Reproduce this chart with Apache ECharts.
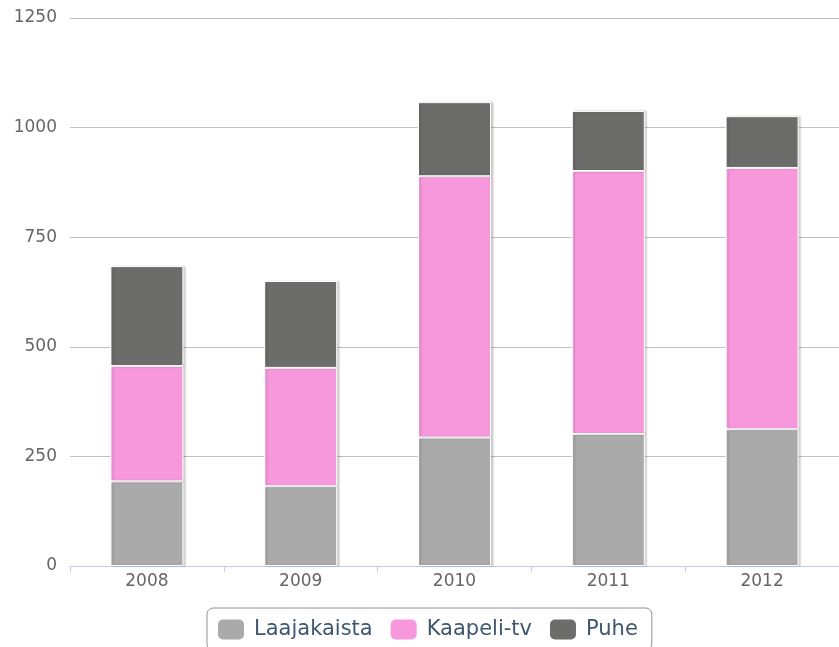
<!DOCTYPE html>
<html>
<head>
<meta charset="utf-8">
<script src="https://cdn.jsdelivr.net/npm/echarts@6/dist/echarts.min.js"></script>
<style>html,body{margin:0;padding:0;background:#fff}#c{width:839px;height:647px}</style>
</head>
<body>
<div id="c"></div>
<script>
const categories = ['2008', '2009', '2010', '2011', '2012'];
const laajakaista = [193, 182, 293, 301, 312];
const kaapelitv = [263, 270, 596, 600, 596];
const puhe = [228, 198, 169, 137, 118];
const yTicks = [0, 250, 500, 750, 1000, 1250];

const font = 'DejaVu Sans';
const barStyle = c => ({
  color: c, borderColor: '#ffffff', borderWidth: 1,
  shadowColor: 'rgba(0,0,0,0.18)', shadowBlur: 2, shadowOffsetX: 2, shadowOffsetY: 0
});
const chart = echarts.init(document.getElementById('c'), null, {renderer: 'canvas'});
chart.setOption({
  animation: false,
  backgroundColor: '#ffffff',
  grid: {left: 70, top: 18, width: 775, height: 548, containLabel: false},
  xAxis: {
    type: 'category', data: categories,
    axisLine: {lineStyle: {color: '#c0d0e0', width: 1}},
    axisTick: {show: true, length: 6, lineStyle: {color: '#c0d0e0'}},
    axisLabel: {color: '#666666', fontFamily: font, fontSize: 17, margin: 7}
  },
  yAxis: {
    type: 'value', min: yTicks[0], max: yTicks[yTicks.length - 1], interval: 250,
    axisLine: {show: false}, axisTick: {show: false},
    splitLine: {lineStyle: {color: '#c0c0c0', width: 1}},
    axisLabel: {color: '#666666', fontFamily: font, fontSize: 17, margin: 13,
      formatter: v => String(v)}
  },
  legend: {
    left: 207, top: 608, orient: 'horizontal',
    itemWidth: 26, itemHeight: 20, itemGap: 18,
    padding: [11, 14, 10, 11],
    borderColor: '#909090', borderWidth: 1, borderRadius: 6,
    icon: 'roundRect',
    itemStyle: {borderWidth: 0, shadowBlur: 0, shadowOffsetX: 0, shadowOffsetY: 0},
    textStyle: {color: '#3e576f', fontFamily: font, fontSize: 21, padding: [0, 0, 0, 5]}
  },
  series: [
    {name: 'Laajakaista', type: 'bar', stack: 'a', barWidth: 73, data: laajakaista, itemStyle: barStyle('#aaaaaa')},
    {name: 'Kaapeli-tv', type: 'bar', stack: 'a', barWidth: 73, data: kaapelitv, itemStyle: barStyle('#f698db')},
    {name: 'Puhe', type: 'bar', stack: 'a', barWidth: 73, data: puhe, itemStyle: barStyle('#6c6c6a')}
  ]
});
</script>
</body>
</html>
